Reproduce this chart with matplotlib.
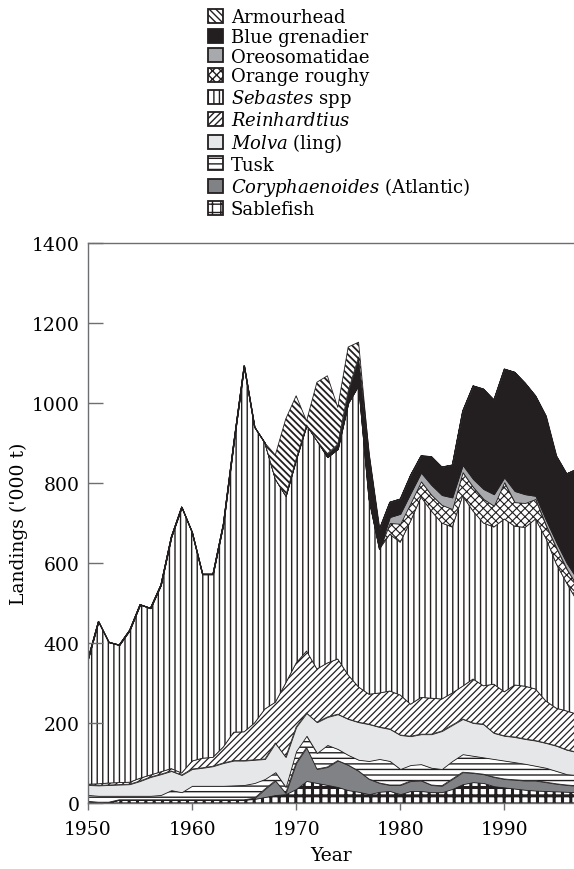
import matplotlib
matplotlib.use("Agg")
import matplotlib.pyplot as plt
from matplotlib.patches import Patch
import numpy as np

plt.rcParams['font.family'] = 'DejaVu Serif'
plt.rcParams['mathtext.fontset'] = 'dejavuserif'

years = np.arange(1950, 1998)

# landings, '000 t, bottom of the stack first
sablefish = [4, 2, 2, 8, 8, 8, 8, 8, 8, 8, 8, 8, 8, 8, 8, 8, 10, 15, 20, 22,
             35, 55, 50, 45, 40, 32, 28, 22, 28, 30, 22, 30, 30, 27, 27, 35, 47, 52, 50, 42,
             39, 36, 33, 31, 30, 29, 28, 27]
coryphaenoides = [0, 0, 0, 0, 0, 0, 0, 0, 0, 0, 0, 0, 0, 0, 0, 0, 2, 20, 36, 3,
                  65, 84, 35, 45, 66, 63, 52, 38, 22, 15, 23, 25, 26, 18, 16, 25, 30, 23, 22, 23,
                  21, 22, 23, 25, 22, 19, 17, 16]
tusk = [16, 16, 16, 10, 10, 10, 10, 12, 24, 19, 35, 35, 35, 35, 36, 37, 38, 25, 21, 15,
        30, 29, 40, 55, 29, 25, 28, 45, 60, 60, 40, 40, 41, 43, 42, 45, 45, 43, 42, 45,
        46, 44, 42, 37, 36, 32, 27, 27]
molva = [25, 26, 27, 28, 29, 37, 47, 52, 48, 43, 42, 45, 49, 57, 62, 61, 58, 50, 73, 75,
         60, 57, 77, 70, 87, 90, 94, 92, 80, 80, 85, 72, 75, 84, 95, 90, 88, 82, 83, 65,
         62, 63, 62, 63, 62, 63, 61, 57]
reinhardtius = [2, 4, 5, 5, 5, 7, 5, 6, 6, 5, 20, 24, 22, 40, 71, 72, 92, 125, 102, 185,
                160, 155, 133, 135, 138, 110, 88, 75, 85, 95, 100, 80, 92, 90, 80, 80, 82, 110, 96, 122,
                110, 130, 132, 129, 105, 94, 97, 95]
sebastes = [313, 406, 352, 344, 380, 434, 417, 467, 579, 665, 572, 460, 458, 557, 723, 915, 740, 665, 558, 468,
            510, 565, 571, 515, 525, 680, 755, 488, 360, 392, 382, 458, 501, 468, 440, 415, 476, 420, 407, 393,
            432, 397, 397, 425, 407, 361, 320, 283]
orange_roughy = [0] * 29 + [28, 46, 45, 39, 40, 45, 45, 59, 60, 60, 53,
                            92, 60, 61, 50, 33, 40, 35, 38]
oreosomatidae = [0] * 29 + [15, 25, 25, 22, 25, 25, 29, 18, 20, 25, 29,
                            12, 28, 22, 8, 13, 14, 15, 17]
blue_grenadier = [0] * 23 + [8, 12, 30, 70, 110, 50, 37, 37, 45, 42, 71, 70, 81, 135, 233, 250, 236,
                             271, 297, 278, 250, 260, 216, 223, 275]
armourhead = [0] * 18 + [60, 192, 158, 10, 146, 195, 92, 110, 37, 5] + [0] * 20

labels = ['Sablefish', r'$\mathit{Coryphaenoides}$ (Atlantic)', 'Tusk', r'$\mathit{Molva}$ (ling)',
          r'$\mathit{Reinhardtius}$', r'$\mathit{Sebastes}$ spp', 'Orange roughy', 'Oreosomatidae',
          'Blue grenadier', 'Armourhead']
series = [sablefish, coryphaenoides, tusk, molva, reinhardtius, sebastes,
          orange_roughy, oreosomatidae, blue_grenadier, armourhead]
faces = ['white', '#808285', 'white', '#e6e7e8', 'white', 'white',
         'white', '#a7a9ac', '#231f20', 'white']
hatches = ['++', None, '---', None, '/////', '|||', 'xxxx', None, None, '\\' * 5]
hatch_lw = [2.2, 1, 1.0, 1, 0.9, 1.0, 0.8, 1, 1, 1.3]


def set_hlw(artist, lw):
    if hasattr(artist, 'set_hatch_linewidth'):
        artist.set_hatch_linewidth(lw)


fig = plt.figure(figsize=(5.74, 8.7), dpi=100)
ax = fig.add_axes([88 / 574, 1 - 804 / 870, 1 - 88 / 574, 560 / 870])

edge = '#231f20'
base = np.zeros(len(years))
for vals, fc, h, hl in zip(series, faces, hatches, hatch_lw):
    top = base + np.array(vals)
    with plt.rc_context({'hatch.linewidth': hl}):
        coll = ax.fill_between(years, base, top, facecolor=fc, hatch=h,
                               edgecolor=edge, linewidth=0.6)
    set_hlw(coll, hl)
    base = top

ax.set_xlim(1950, 1996.7)
ax.set_ylim(0, 1400)
ax.set_xticks([1950, 1960, 1970, 1980, 1990])
ax.set_yticks(range(0, 1401, 200))

for s in ['left', 'top', 'bottom']:
    ax.spines[s].set_color('#6d6e71')
    ax.spines[s].set_linewidth(1.0)
ax.spines['right'].set_visible(False)
ax.tick_params(axis='y', direction='in', length=11, width=1, color='#6d6e71',
               labelsize=13.5, pad=6)
ax.tick_params(axis='x', direction='out', length=5, width=1, color='#6d6e71',
               labelsize=13.5, pad=7)
ax.set_ylabel("Landings ('000 t)", fontsize=13.5, labelpad=3)
ax.set_xlabel('Year', fontsize=13.5, labelpad=6)

# legend, top entry first
handles = []
for fc, h, hl in zip(faces, hatches, hatch_lw):
    p = Patch(facecolor=fc, hatch=h, edgecolor=edge, linewidth=1.3)
    set_hlw(p, min(hl, 1.5))
    handles.append(p)
fig.legend(handles[::-1], labels[::-1], loc='upper left',
           bbox_to_anchor=(208 / 574, 1 - 9 / 870), frameon=False,
           fontsize=13, handlelength=0.82, handleheight=0.82,
           labelspacing=0.1, handletextpad=0.45, borderpad=0, borderaxespad=0)

fig.savefig('out.png', dpi=100)
